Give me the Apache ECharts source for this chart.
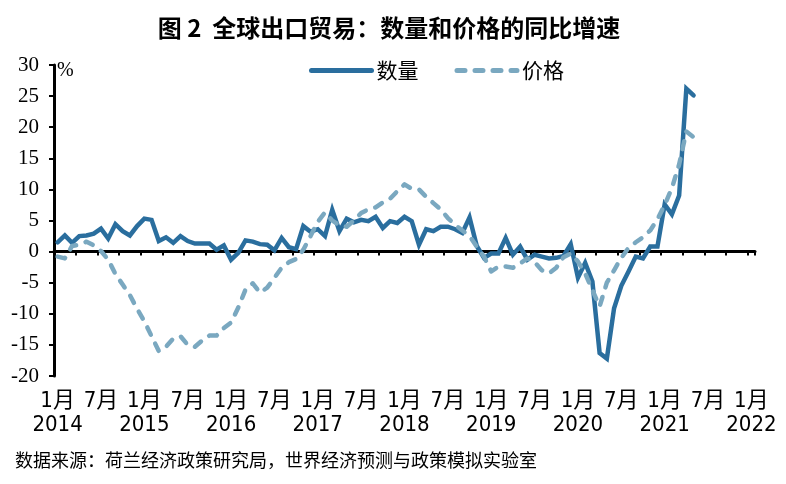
<!DOCTYPE html>
<html>
<head>
<meta charset="utf-8">
<script src="https://cdn.jsdelivr.net/npm/echarts@6/dist/echarts.min.js"></script>
<style>
  html, body { margin: 0; padding: 0; background: #fff; }
  #chart { width: 786px; height: 484px; }
</style>
</head>
<body>
<div id="chart"></div>
<script>
// 月份：2014年1月 - 2022年1月
var years = [2014, 2015, 2016, 2017, 2018, 2019, 2020, 2021, 2022]
var months = []
years.forEach(function (y) {
  for (var m = 1; m <= 12; m++) {
    if (y === 2022 && m > 1) break
    months.push(y + '-' + m)
  }
})

// 数量（同比，%）2014-01 ~ 2021-05
var volume = [
  1.5, 2.6, 1.4, 2.5, 2.6, 2.9, 3.7, 2.1, 4.4, 3.3, 2.6, 4.1,
  5.3, 5.1, 1.7, 2.3, 1.4, 2.5, 1.7, 1.3, 1.3, 1.3, 0.3, 1.0,
  -1.3, -0.2, 1.8, 1.6, 1.2, 1.1, 0.2, 2.2, 0.7, 0.4, 4.1, 3.2,
  3.6, 2.5, 6.7, 3.3, 5.3, 4.7, 5.1, 4.9, 5.6, 3.8, 4.9, 4.6,
  5.6, 4.9, 1.1, 3.6, 3.3, 4.0, 4.0, 3.6, 3.0, 5.5, 0.9, -1.0,
  -0.3, -0.3, 2.2, -0.5, 0.8, -1.3, -0.5, -0.8, -1.1, -1.0, -0.7, 1.2,
  -4.2, -1.8, -4.8, -16.3, -17.2, -9.1, -5.5, -3.2, -0.8, -1.1, 0.8, 0.8,
  7.6, 6.0, 9.0, 26.2, 25.1
]

// 价格（同比，%）2014-01 ~ 2021-05
var price = [
  -0.8, -1.1, 0.9, 1.1, 1.6, 1.0, 0.1, -1.3, -3.6, -5.3, -7.0, -9.2,
  -11.2, -13.6, -16.0, -15.3, -14.0, -13.6, -15.0, -15.3, -14.3, -13.5, -13.5, -12.3,
  -11.4, -9.0, -6.1, -5.1, -6.6, -5.8, -4.2, -2.6, -1.7, -1.2, 0.3, 2.5,
  4.8, 6.3, 5.0, 4.2, 4.0, 5.0, 6.2, 6.8, 7.1, 7.9, 8.5, 9.7,
  10.8, 10.1, 10.0, 8.8, 7.8, 6.8, 5.4, 4.3, 3.4, 2.5, 0.8, -0.8,
  -3.2, -2.4, -2.4, -2.6, -1.9, -1.1, -1.7, -3.0, -3.5, -2.6, -0.9, -0.3,
  -1.6, -3.5, -6.2, -8.8, -5.0, -3.0, -1.0, 0.6, 1.5, 2.3, 3.4, 5.2,
  7.5, 10.2, 14.0, 19.3, 18.4
]

var chart = echarts.init(document.getElementById('chart'))

var cjk = "'Noto Sans CJK SC', sans-serif"
var narrow = "'Liberation Sans Narrow', 'DejaVu Sans Condensed', 'Noto Sans CJK SC', sans-serif"

chart.setOption({
  animation: false,
  backgroundColor: '#fff',
  title: {
    text: '图 2  全球出口贸易：数量和价格的同比增速',
    left: 384,
    top: 11,
    textAlign: 'center',
    textStyle: { fontFamily: cjk, fontSize: 24, fontWeight: 'bold', color: '#000' }
  },
  legend: {
    left: 304,
    top: 55,
    itemWidth: 60,
    itemHeight: 14,
    itemGap: 36,
    itemStyle: { color: 'rgba(0,0,0,0)', borderWidth: 0 },
    lineStyle: { width: 5 },
    textStyle: { fontFamily: cjk, fontSize: 21, color: '#000', padding: [0, 0, 0, 0] },
    data: ['数量', '价格']
  },
  grid: { left: 54, right: 31, top: 65, bottom: 108 },
  xAxis: [
    {
      type: 'category',
      data: months,
      position: 'bottom',
      boundaryGap: true,
      axisLine: { onZero: true, lineStyle: { color: '#000', width: 3 } },
      axisTick: { show: true, interval: 2, length: 4, lineStyle: { color: '#000', width: 2 } },
      axisLabel: { show: false }
    },
    {
      type: 'category',
      data: months,
      position: 'bottom',
      boundaryGap: true,
      axisLine: { show: false, onZero: false },
      axisTick: { show: false },
      axisLabel: {
        interval: 5,
        margin: 13,
        fontFamily: narrow,
        fontSize: 22,
        lineHeight: 24,
        color: '#000',
        formatter: function (v) {
          var p = v.split('-')
          return p[1] === '1' ? '1月\n' + p[0] : p[1] + '月'
        }
      }
    }
  ],
  yAxis: {
    type: 'value',
    min: -20,
    max: 30,
    interval: 5,
    axisLine: { show: true, lineStyle: { color: '#000', width: 3 } },
    axisTick: { show: true, length: 5, lineStyle: { color: '#000', width: 2 } },
    splitLine: { show: false },
    axisLabel: { margin: 15, fontFamily: "'Liberation Serif', serif", fontSize: 21, color: '#000' }
  },
  graphic: [
    {
      type: 'text', left: 57, top: 61,
      style: { text: '%', fontFamily: "'Liberation Serif', serif", fontSize: 20, fill: '#000' }
    },
    {
      type: 'text', left: 15, top: 451,
      style: { text: '数据来源：荷兰经济政策研究局，世界经济预测与政策模拟实验室', fontFamily: cjk, fontSize: 18, fill: '#000' }
    }
  ],
  series: [
    {
      name: '数量',
      type: 'line',
      xAxisIndex: 0,
      symbol: 'none',
      data: volume,
      lineStyle: { color: '#2A6E9E', width: 4.5, cap: 'round', join: 'miter' },
      itemStyle: { color: '#2A6E9E' }
    },
    {
      name: '价格',
      type: 'line',
      xAxisIndex: 0,
      symbol: 'none',
      data: price,
      lineStyle: { color: '#7AA8C0', width: 4.5, type: [8, 10], cap: 'round', join: 'round' },
      itemStyle: { color: '#7AA8C0' }
    }
  ]
})
</script>
</body>
</html>
